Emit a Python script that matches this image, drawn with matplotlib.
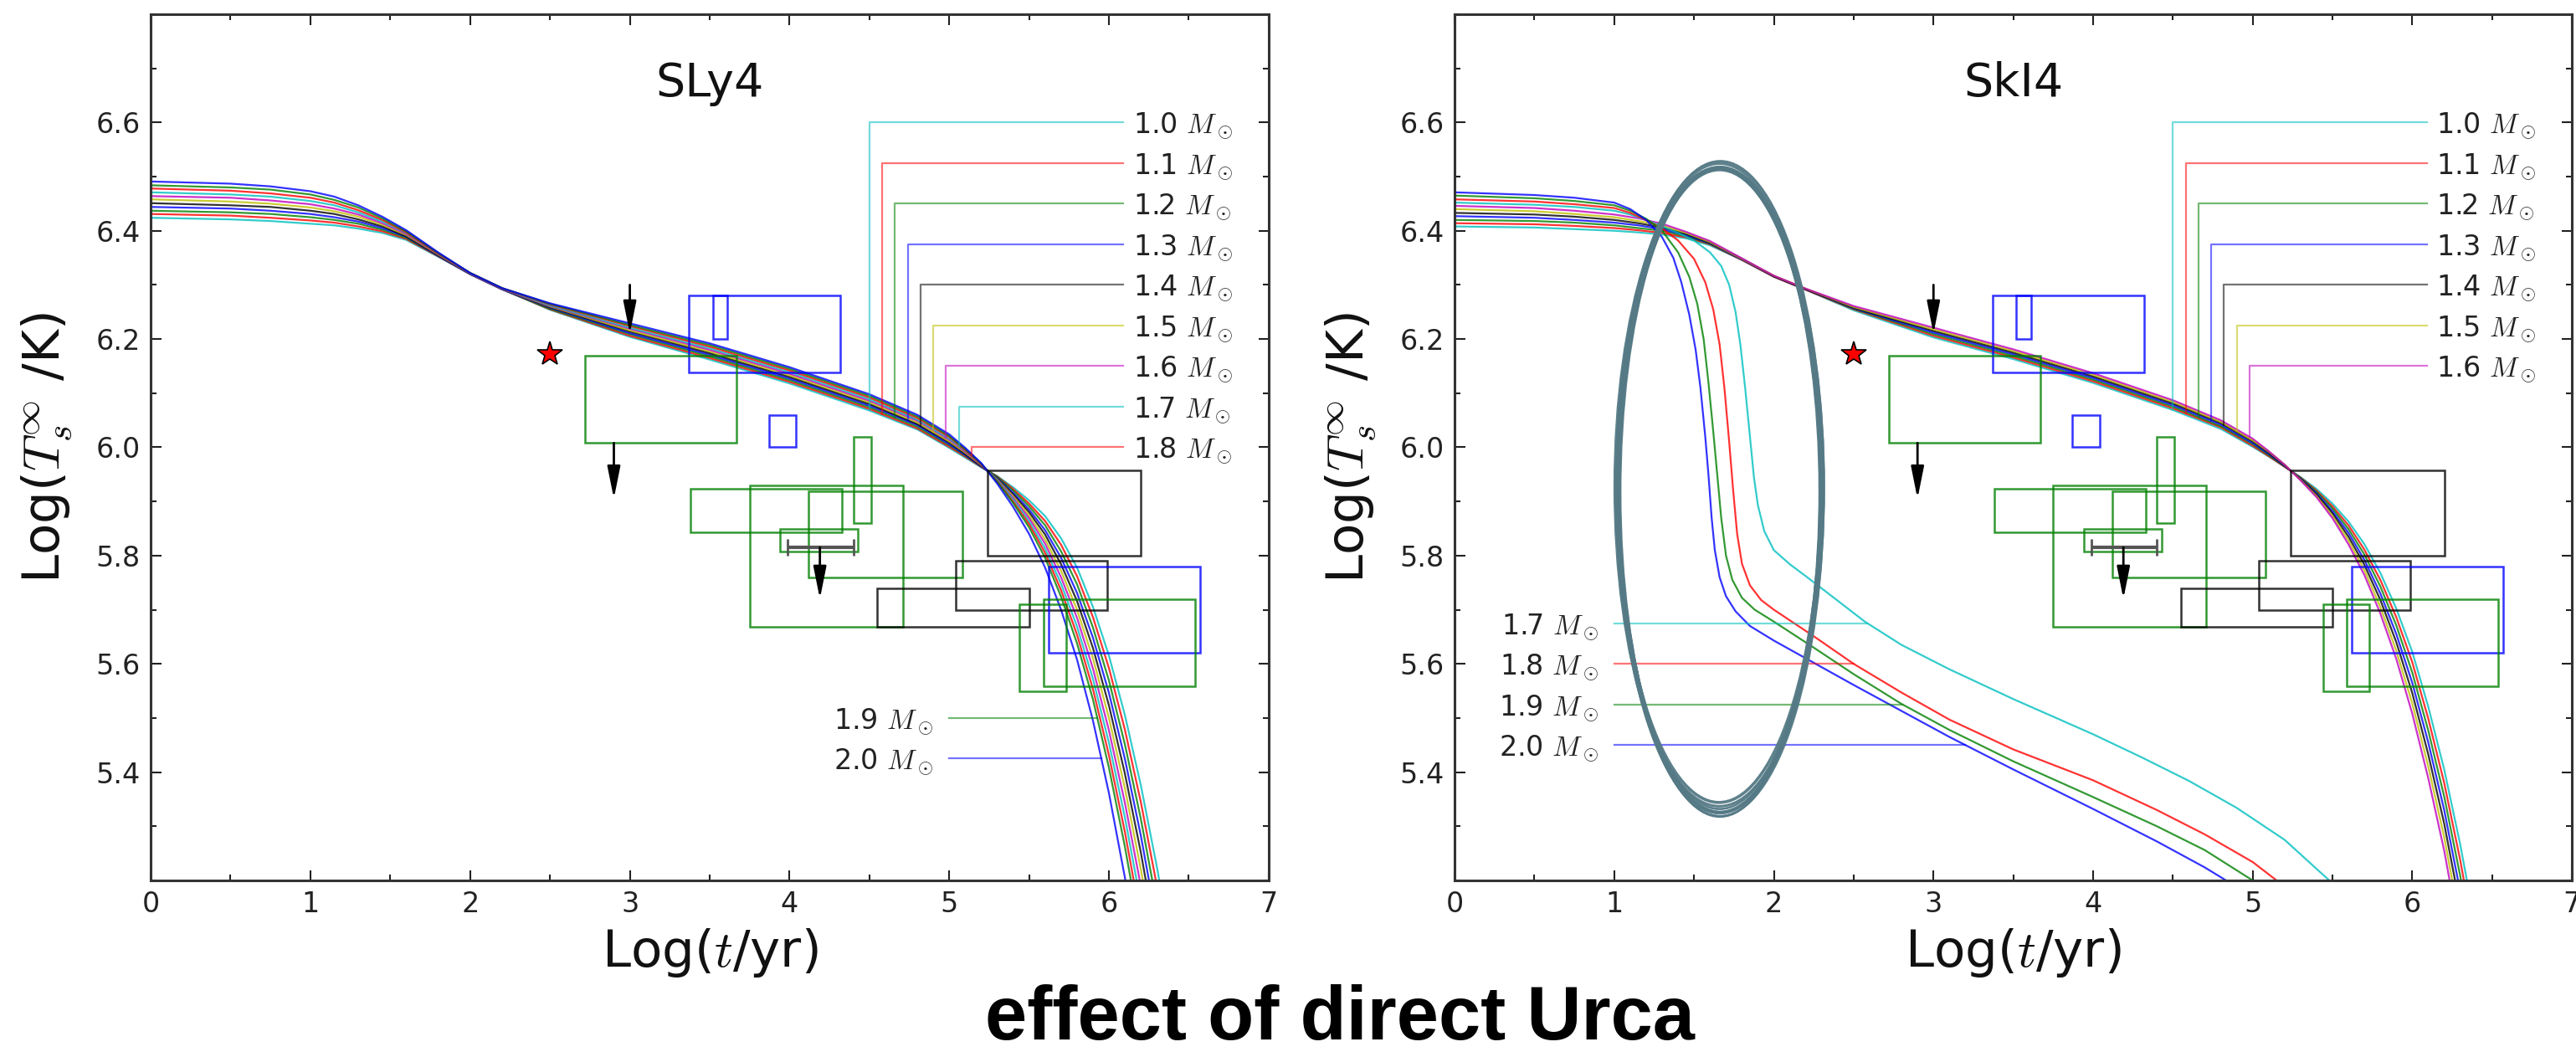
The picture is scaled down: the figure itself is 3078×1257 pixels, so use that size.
import numpy as np
import matplotlib
matplotlib.use("Agg")
import matplotlib.pyplot as plt
from matplotlib.patches import Rectangle, Ellipse
from matplotlib.ticker import MultipleLocator, FormatStrFormatter
from matplotlib import font_manager

plt.rcParams["font.family"] = "DejaVu Sans"
plt.rcParams["mathtext.fontset"] = "cm"

# ---- cooling curves -------------------------------------------------------
MASSES = [1.0, 1.1, 1.2, 1.3, 1.4, 1.5, 1.6, 1.7, 1.8, 1.9, 2.0]
MASS_COLORS = ["c", "r", "g", "b", "k", "y", "m", "c", "r", "g", "b"]

# log(t/yr) samples of the slow-cooling tracks
LOG_T = [0.0, 0.5, 0.75, 1.0, 1.15, 1.3, 1.45, 1.6, 1.8, 2.0, 2.2, 2.5, 3.0, 3.5, 4.0,
         4.5, 4.8, 5.0, 5.1, 5.2, 5.3, 5.4, 5.5, 5.6, 5.7, 5.8, 5.9, 6.0, 6.1, 6.2,
         6.3, 6.4, 6.5]

# SLy4: one row per LOG_T sample, columns 1.0 ... 2.0 Msun
SLY4_TS = [
    [6.424, 6.431, 6.437, 6.444, 6.451, 6.458, 6.464, 6.471, 6.478, 6.484, 6.491],
    [6.421, 6.428, 6.434, 6.441, 6.447, 6.454, 6.461, 6.467, 6.474, 6.480, 6.487],
    [6.418, 6.424, 6.431, 6.437, 6.444, 6.450, 6.456, 6.463, 6.469, 6.476, 6.482],
    [6.413, 6.419, 6.425, 6.431, 6.437, 6.443, 6.449, 6.455, 6.461, 6.467, 6.473],
    [6.410, 6.415, 6.420, 6.425, 6.431, 6.436, 6.441, 6.447, 6.452, 6.457, 6.463],
    [6.404, 6.408, 6.413, 6.417, 6.421, 6.426, 6.430, 6.434, 6.438, 6.443, 6.447],
    [6.396, 6.399, 6.402, 6.405, 6.408, 6.411, 6.414, 6.417, 6.420, 6.423, 6.426],
    [6.383, 6.385, 6.387, 6.389, 6.390, 6.392, 6.394, 6.396, 6.397, 6.399, 6.401],
    [6.352, 6.353, 6.354, 6.354, 6.355, 6.356, 6.357, 6.358, 6.358, 6.359, 6.360],
    [6.320, 6.320, 6.320, 6.320, 6.321, 6.321, 6.321, 6.322, 6.322, 6.322, 6.322],
    [6.292, 6.292, 6.292, 6.292, 6.293, 6.293, 6.293, 6.294, 6.294, 6.294, 6.294],
    [6.254, 6.255, 6.256, 6.258, 6.259, 6.260, 6.261, 6.262, 6.264, 6.265, 6.266],
    [6.204, 6.206, 6.209, 6.211, 6.214, 6.216, 6.219, 6.221, 6.224, 6.226, 6.229],
    [6.162, 6.165, 6.168, 6.171, 6.174, 6.177, 6.180, 6.183, 6.186, 6.189, 6.192],
    [6.118, 6.121, 6.124, 6.127, 6.130, 6.133, 6.136, 6.139, 6.142, 6.145, 6.148],
    [6.068, 6.071, 6.074, 6.077, 6.080, 6.083, 6.086, 6.089, 6.092, 6.095, 6.098],
    [6.033, 6.035, 6.038, 6.041, 6.043, 6.046, 6.049, 6.051, 6.054, 6.057, 6.060],
    [5.999, 6.001, 6.004, 6.006, 6.009, 6.011, 6.014, 6.016, 6.019, 6.021, 6.024],
    [5.981, 5.983, 5.985, 5.986, 5.988, 5.990, 5.992, 5.994, 5.995, 5.997, 5.999],
    [5.963, 5.964, 5.965, 5.965, 5.966, 5.967, 5.968, 5.969, 5.969, 5.970, 5.971],
    [5.947, 5.946, 5.945, 5.943, 5.942, 5.941, 5.940, 5.939, 5.937, 5.936, 5.933],
    [5.926, 5.923, 5.920, 5.916, 5.913, 5.910, 5.907, 5.904, 5.900, 5.897, 5.890],
    [5.902, 5.896, 5.891, 5.885, 5.880, 5.874, 5.869, 5.863, 5.858, 5.852, 5.840],
    [5.873, 5.864, 5.856, 5.847, 5.839, 5.830, 5.822, 5.813, 5.805, 5.796, 5.778],
    [5.832, 5.820, 5.808, 5.796, 5.784, 5.772, 5.760, 5.748, 5.736, 5.724, 5.700],
    [5.778, 5.762, 5.747, 5.731, 5.716, 5.700, 5.685, 5.669, 5.654, 5.638, 5.608],
    [5.705, 5.686, 5.667, 5.648, 5.629, 5.610, 5.591, 5.572, 5.553, 5.534, 5.495],
    [5.615, 5.592, 5.569, 5.546, 5.523, 5.500, 5.477, 5.454, 5.431, 5.408, 5.361],
    [5.505, 5.478, 5.451, 5.424, 5.397, 5.370, 5.343, 5.316, 5.289, 5.262, 5.205],
    [5.375, 5.344, 5.313, 5.282, 5.251, 5.220, 5.189, 5.158, 5.127, 5.096, 5.030],
    [5.225, 5.190, 5.155, 5.120, 5.085, 5.050, 5.015, 4.980, 4.945, 4.910, 4.835],
    [5.060, 5.020, 4.980, 4.940, 4.900, 4.860, 4.820, 4.780, 4.740, 4.700, 4.616],
    [4.865, 4.820, 4.775, 4.730, 4.685, 4.640, 4.595, 4.550, 4.505, 4.460, 4.365],
]

# SkI4 below the direct Urca threshold: rows per LOG_T, columns 1.0 ... 1.6 Msun
SKI4_TS = [
    [6.408, 6.414, 6.420, 6.427, 6.433, 6.440, 6.446],
    [6.406, 6.412, 6.418, 6.424, 6.430, 6.436, 6.442],
    [6.403, 6.409, 6.415, 6.420, 6.426, 6.431, 6.437],
    [6.400, 6.405, 6.410, 6.415, 6.420, 6.425, 6.430],
    [6.397, 6.401, 6.405, 6.410, 6.414, 6.418, 6.423],
    [6.393, 6.396, 6.400, 6.403, 6.406, 6.410, 6.413],
    [6.386, 6.388, 6.390, 6.392, 6.394, 6.396, 6.398],
    [6.373, 6.375, 6.376, 6.377, 6.378, 6.379, 6.381],
    [6.346, 6.346, 6.347, 6.347, 6.348, 6.348, 6.349],
    [6.315, 6.315, 6.316, 6.316, 6.316, 6.317, 6.317],
    [6.291, 6.291, 6.292, 6.292, 6.292, 6.293, 6.293],
    [6.253, 6.255, 6.256, 6.257, 6.258, 6.259, 6.261],
    [6.203, 6.206, 6.209, 6.212, 6.215, 6.218, 6.221],
    [6.163, 6.166, 6.169, 6.172, 6.175, 6.178, 6.181],
    [6.119, 6.122, 6.125, 6.128, 6.131, 6.134, 6.137],
    [6.069, 6.072, 6.075, 6.078, 6.081, 6.084, 6.087],
    [6.034, 6.037, 6.039, 6.042, 6.045, 6.047, 6.050],
    [6.001, 6.003, 6.006, 6.008, 6.011, 6.013, 6.016],
    [5.983, 5.984, 5.986, 5.988, 5.990, 5.992, 5.993],
    [5.964, 5.964, 5.965, 5.966, 5.967, 5.968, 5.968],
    [5.945, 5.944, 5.943, 5.942, 5.941, 5.940, 5.939],
    [5.923, 5.920, 5.918, 5.915, 5.913, 5.910, 5.908],
    [5.896, 5.891, 5.887, 5.882, 5.878, 5.873, 5.869],
    [5.863, 5.856, 5.849, 5.842, 5.835, 5.828, 5.821],
    [5.821, 5.811, 5.802, 5.792, 5.783, 5.773, 5.764],
    [5.768, 5.755, 5.743, 5.730, 5.718, 5.705, 5.693],
    [5.702, 5.686, 5.671, 5.655, 5.640, 5.624, 5.609],
    [5.622, 5.603, 5.584, 5.565, 5.546, 5.527, 5.508],
    [5.521, 5.499, 5.477, 5.455, 5.433, 5.411, 5.389],
    [5.405, 5.380, 5.355, 5.330, 5.305, 5.280, 5.255],
    [5.267, 5.238, 5.209, 5.180, 5.151, 5.122, 5.093],
    [5.109, 5.076, 5.043, 5.010, 4.977, 4.944, 4.911],
    [4.931, 4.894, 4.857, 4.820, 4.783, 4.746, 4.709],
]

# SkI4 1.7 ... 2.0 Msun: fast cooling once direct Urca switches on
SKI4_DU_T = [
    [0.0, 0.5, 0.75, 1.0, 1.1, 1.2, 1.3, 1.4, 1.5, 1.6, 1.67, 1.72, 1.76, 1.79, 1.82, 1.85,
     1.875, 1.9, 1.94, 2.0, 2.1, 2.2, 2.35, 2.57, 2.8, 3.1, 3.5, 4.0, 4.3, 4.6, 4.9, 5.2,
     5.48, 5.6],
    [0.0, 0.5, 0.75, 1.0, 1.1, 1.2, 1.3, 1.4, 1.5, 1.57, 1.62, 1.66, 1.69, 1.72, 1.745, 1.77,
     1.8, 1.85, 1.92, 2.0, 2.25, 2.5, 2.8, 3.1, 3.5, 4.0, 4.4, 4.7, 5.0, 5.15, 5.3],
    [0.0, 0.5, 0.75, 1.0, 1.1, 1.2, 1.3, 1.4, 1.47, 1.52, 1.56, 1.59, 1.62, 1.645, 1.67, 1.70,
     1.74, 1.8, 1.88, 2.0, 2.25, 2.5, 2.8, 3.1, 3.5, 4.0, 4.4, 4.7, 5.0, 5.15],
    [0.0, 0.5, 0.75, 1.0, 1.1, 1.2, 1.3, 1.37, 1.42, 1.47, 1.51, 1.54, 1.57, 1.59, 1.61, 1.63,
     1.66, 1.70, 1.76, 1.85, 2.0, 2.25, 2.5, 2.8, 3.1, 3.5, 4.0, 4.4, 4.7, 5.0],
]
SKI4_DU_TS = [
    [6.452, 6.448, 6.444, 6.437, 6.430, 6.420, 6.408, 6.396, 6.382, 6.360, 6.335, 6.300,
     6.250, 6.190, 6.110, 6.020, 5.945, 5.893, 5.845, 5.810, 5.784, 5.762, 5.728, 5.678,
     5.635, 5.590, 5.535, 5.470, 5.428, 5.384, 5.334, 5.275, 5.200, 5.160],
    [6.458, 6.454, 6.449, 6.442, 6.433, 6.420, 6.404, 6.382, 6.348, 6.305, 6.255, 6.190,
     6.110, 6.010, 5.920, 5.840, 5.785, 5.745, 5.718, 5.700, 5.651, 5.600, 5.547, 5.497,
     5.442, 5.385, 5.330, 5.285, 5.234, 5.200, 5.160],
    [6.465, 6.460, 6.455, 6.447, 6.437, 6.422, 6.400, 6.360, 6.315, 6.265, 6.200, 6.120,
     6.030, 5.950, 5.870, 5.800, 5.755, 5.722, 5.700, 5.678, 5.630, 5.581, 5.526, 5.478,
     5.420, 5.354, 5.300, 5.256, 5.200, 5.165],
    [6.471, 6.466, 6.461, 6.452, 6.440, 6.420, 6.388, 6.350, 6.305, 6.245, 6.180, 6.110,
     6.020, 5.950, 5.870, 5.810, 5.760, 5.725, 5.697, 5.670, 5.643, 5.602, 5.561, 5.513,
     5.465, 5.405, 5.332, 5.272, 5.224, 5.170],
]

# ---- observed sources (age range, log Ts range) --------------------------
OBS_T_LO = [3.37, 3.52, 2.72, 3.87, 4.40, 3.38, 3.75, 4.12, 3.94, 5.24, 5.04, 4.55, 5.62, 5.59, 5.44]
OBS_T_HI = [4.32, 3.61, 3.67, 4.04, 4.51, 4.33, 4.71, 5.08, 4.43, 6.20, 5.99, 5.50, 6.57, 6.54, 5.73]
OBS_TS_LO = [6.138, 6.20, 6.008, 6.00, 5.86, 5.843, 5.669, 5.76, 5.807, 5.80, 5.70, 5.669, 5.62, 5.559, 5.549]
OBS_TS_HI = [6.281, 6.281, 6.169, 6.06, 6.02, 5.924, 5.93, 5.919, 5.849, 5.958, 5.79, 5.74, 5.78, 5.719, 5.71]
OBS_COLOR = ["b", "b", "g", "b", "g", "g", "g", "g", "g", "k", "k", "k", "b", "g", "g"]

# upper limits on Ts
UL_T = [3.0, 2.9, 4.19]
UL_TS_FROM = [6.30, 6.008, 5.815]
UL_TS_TO = [6.21, 5.905, 5.72]

# source with a horizontal age error bar
ERR_T, ERR_TS, ERR_DT = 4.195, 5.816, 0.205

# star-marked source
STAR_T, STAR_TS = 2.5, 6.172


def style_axes(ax):
    ax.set_xlim(0, 7)
    ax.set_ylim(5.2, 6.8)
    ax.set_xticks(range(8))
    ax.set_yticks([5.4, 5.6, 5.8, 6.0, 6.2, 6.4, 6.6])
    ax.yaxis.set_major_formatter(FormatStrFormatter("%.1f"))
    ax.xaxis.set_minor_locator(MultipleLocator(0.5))
    ax.yaxis.set_minor_locator(MultipleLocator(0.1))
    ax.tick_params(which="both", direction="in", top=True, right=True,
                   width=1.5, colors="#222222", labelsize=24, pad=9)
    ax.tick_params(which="major", length=9)
    ax.tick_params(which="minor", length=5)
    for s in ax.spines.values():
        s.set_linewidth(2.2)
        s.set_color("#333333")
    ax.set_xlabel(r"Log($t$/yr)", fontsize=44, color="#111111")
    ax.set_ylabel(r"Log($T_s^{\infty}$ /K)", fontsize=44, color="#111111")
    ax.xaxis.set_label_coords(0.5, -0.053)
    ax.yaxis.set_label_coords(-0.069, 0.5)


def draw_observations(ax):
    for x0, x1, y0, y1, c in zip(OBS_T_LO, OBS_T_HI, OBS_TS_LO, OBS_TS_HI, OBS_COLOR):
        ax.add_patch(Rectangle((x0, y0), x1 - x0, y1 - y0, fill=False,
                               edgecolor=c, lw=1.8, alpha=0.8, zorder=3))
    for x, y0, y1 in zip(UL_T, UL_TS_FROM, UL_TS_TO):
        ax.annotate("", xy=(x, y1), xytext=(x, y0),
                    arrowprops=dict(arrowstyle="-|>,head_length=0.9,head_width=0.18",
                                    color="k", lw=2, mutation_scale=26,
                                    shrinkA=0, shrinkB=0), zorder=5)
    ax.errorbar(ERR_T, ERR_TS, xerr=ERR_DT, fmt="none", ecolor="#555555",
                elinewidth=3, capsize=7, capthick=2, zorder=4)
    ax.plot(STAR_T, STAR_TS, marker="*", ms=22, mfc="red", mec="k", mew=1.2, zorder=6)


def mass_label(m):
    return f"{m:.1f} $M_\\odot$"


def top_labels(ax, xs, ys, idx):
    # staircase leaders from the curves up to a column of labels
    for k, i in enumerate(idx):
        xv = 4.5 + 0.08 * k
        yl = 6.6 - 0.075 * k
        yfoot = np.interp(xv, xs[i], ys[i])
        ax.plot([xv, xv, 6.09], [yfoot, yl, yl], color=MASS_COLORS[i], lw=1.6, alpha=0.55, zorder=2)
        ax.text(6.15, yl, mass_label(MASSES[i]), fontsize=24, color="#222222",
                ha="left", va="center_baseline")


def side_labels(ax, xs, ys, idx, y_first, x_start):
    # horizontal leaders running from the labels to the curves
    for k, i in enumerate(idx):
        yl = y_first - 0.075 * k
        xc = np.interp(yl, ys[i][::-1], xs[i][::-1])
        ax.plot([x_start, xc], [yl, yl], color=MASS_COLORS[i], lw=1.6, alpha=0.55, zorder=2)
        ax.text(x_start - 0.1, yl, mass_label(MASSES[i]), fontsize=24, color="#222222",
                ha="right", va="center_baseline")


fig = plt.figure(figsize=(30.78, 12.57), dpi=100)
ax_l = fig.add_axes([0.0585, 0.1631, 0.4340, 0.8234])
ax_r = fig.add_axes([0.5647, 0.1631, 0.4337, 0.8234])

# ---- left: SLy4 ----
style_axes(ax_l)
sly_y = list(np.array(SLY4_TS).T)
sly_x = [np.array(LOG_T)] * len(sly_y)
for i, yv in enumerate(sly_y):
    ax_l.plot(LOG_T, yv, color=MASS_COLORS[i], lw=1.6, alpha=0.8, zorder=2)
draw_observations(ax_l)
top_labels(ax_l, sly_x, sly_y, range(9))
side_labels(ax_l, sly_x, sly_y, [9, 10], 5.5, 5.0)
ax_l.text(3.5, 6.672, "SLy4", fontsize=40, ha="center", va="center", color="#111111")

# ---- right: SkI4 ----
style_axes(ax_r)
ski_y = list(np.array(SKI4_TS).T) + [np.array(v) for v in SKI4_DU_TS]
ski_x = [np.array(LOG_T)] * len(SKI4_TS[0]) + [np.array(v) for v in SKI4_DU_T]
for i in range(len(ski_y)):
    ax_r.plot(ski_x[i], ski_y[i], color=MASS_COLORS[i], lw=1.6, alpha=0.8, zorder=2)
draw_observations(ax_r)
top_labels(ax_r, ski_x, ski_y, range(7))
side_labels(ax_r, ski_x, ski_y, [7, 8, 9, 10], 5.675, 1.0)
ax_r.text(3.5, 6.672, "SkI4", fontsize=40, ha="center", va="center", color="#111111")

# hand-drawn style ring around the fast-cooling drop: several loose strokes
for (cx, cy, w, h, ang, lw) in [(1.660, 5.925, 1.29, 1.20, 0.0, 3.0),
                                (1.665, 5.921, 1.27, 1.19, 0.6, 2.6),
                                (1.655, 5.929, 1.28, 1.17, -0.6, 2.6),
                                (1.662, 5.918, 1.25, 1.20, 0.3, 2.2),
                                (1.658, 5.927, 1.31, 1.18, -0.2, 2.2),
                                (1.660, 5.922, 1.26, 1.18, 0.0, 2.0),
                                (1.664, 5.924, 1.30, 1.21, 0.2, 1.6)]:
    ax_r.add_patch(Ellipse((cx, cy), w, h, angle=ang, fill=False,
                           edgecolor="#557a86", lw=lw, alpha=0.95, zorder=7))

names = {f.name for f in font_manager.fontManager.ttflist}
if "Liberation Sans Narrow" in names:
    title_family, title_size = ["Liberation Sans Narrow", "DejaVu Sans"], 80
else:
    title_family, title_size = ["Liberation Sans", "DejaVu Sans"], 65
fig.text(0.52, 0.012, "effect of direct Urca", fontsize=title_size, fontweight="bold",
         family=title_family, ha="center", va="baseline")

fig.savefig("out.png", dpi=100)
